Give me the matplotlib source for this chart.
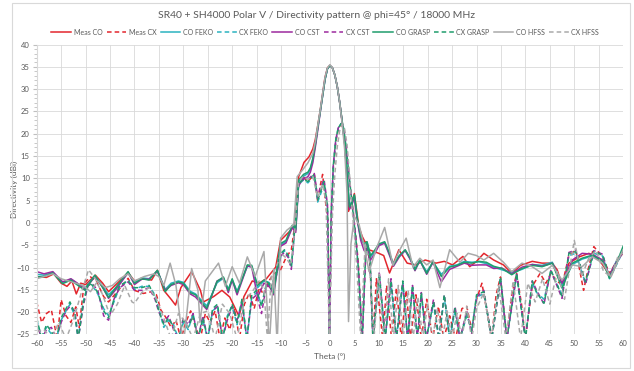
import matplotlib.pyplot as plt
from matplotlib.patches import Rectangle
from matplotlib.ticker import MultipleLocator

plt.rcParams["font.family"] = ["Lato", "DejaVu Sans"]

# Theta grids (deg)
theta_co_sim = [
    -60, -58.5, -56.7, -54.7, -53, -51.8, -50.1, -48.1, -46.5, -45.3,
    -43.5, -41.3, -40, -38.5, -37, -35.3, -33.7, -32.5, -31, -30,
    -28.6, -27.5, -25.2, -23.1, -21.8, -20.8, -20, -19, -16.9, -16,
    -14.8, -13.5, -12.5, -11.5, -10.1, -9, -7.7, -7, -6.4, -5.4,
    -4.5, -4, -3.5, -3, -2.5, -2, -1.5, -1, -0.5, 0,
    0.5, 1, 1.5, 2, 2.5, 3, 3.5, 4, 4.5, 5,
    5.6, 6.3, 7, 7.6, 8.3, 9.1, 10, 11.2, 12.2, 13,
    14.2, 15.4, 16.4, 17.4, 18.4, 19.8, 21.1, 22.8, 24.5, 26,
    27.5, 29, 30.5, 32, 33.5, 35.2, 37.2, 39.3, 41.4, 43.4,
    45.5, 47.5, 49.6, 51.6, 53.7, 55.8, 57.2, 58.5, 60,
]
theta_cx_sim = [
    -60, -59, -58, -57, -56, -55, -54, -53.2, -52.2, -51.5,
    -50.5, -49.5, -48.5, -47.5, -46.3, -45.3, -44.2, -43, -41.3, -40,
    -38.5, -37, -35.8, -35, -34, -33, -32, -31, -30, -29,
    -28, -27, -26, -25, -24, -23, -22, -21, -20, -19,
    -18, -17, -16, -15, -14, -13, -12, -11, -10, -9.3,
    -8.5, -7.9, -7.2, -6.4, -5.5, -4.5, -3.2, -2.5, -2, -1.2,
    -0.5, -0.1, 0.3, 0.7, 1.2, 1.7, 2.3, 2.8, 3.3, 3.8,
    4.3, 4.8, 5.3, 5.8, 6.6, 7.4, 8.2, 8.8, 10.1, 11.3,
    12.5, 13.6, 14.9, 15.9, 16.9, 17.9, 18.7, 19.7, 21.2, 22.3,
    23.4, 24.5, 25.6, 26.6, 28, 29, 30, 31.5, 33.1, 34.9,
    36.2, 38.2, 40, 41.4, 42.3, 43.8, 45.2, 47.5, 48.9, 50.3,
    52.3, 54, 55.8, 57.2, 58.5, 60,
]
theta_meas_co = [
    -60, -58, -56.5, -55, -53.8, -52.8, -51.9, -51, -50, -48,
    -46.5, -45.3, -43.5, -41.3, -40, -38, -36.5, -35.3, -34, -32.5,
    -31.6, -30.5, -28.3, -26.5, -25.9, -23.8, -22.1, -20.5, -18.6, -17.6,
    -15.9, -14.5, -13, -11.1, -10.1, -8, -7.1, -6.4, -5.3, -4.3,
    -3.5, -3, -2.5, -2, -1.5, -1, -0.5, 0, 0.5, 1,
    1.5, 2, 2.5, 3, 3.5, 3.8, 4.3, 5, 5.9, 6.6,
    8, 10, 11, 12.2, 14.1, 15.8, 17.5, 19.5, 21.7, 23.4,
    25.1, 27.2, 28.6, 30, 31.5, 33.5, 35.5, 37.2, 39, 41.4,
    43.4, 45.5, 46.5, 47.5, 48.9, 51, 53, 55.1, 57.2, 59.2,
    60,
]
theta_meas_cx = [
    -60, -59, -58, -57, -55.8, -55, -54, -53, -52, -51.3,
    -50.3, -49, -47.8, -46.3, -45.3, -43.3, -41.3, -40, -38.2, -36.5,
    -35.5, -34.6, -33.5, -32.5, -31.5, -30.5, -29.5, -28.5, -27.5, -26.5,
    -25.5, -24.5, -23.5, -22.5, -21.5, -20.5, -19.5, -18.5, -17.5, -16.5,
    -15.5, -14.5, -13.5, -12.5, -11.5, -10.1, -9, -7.9, -7.2, -6.4,
    -5.5, -4.5, -3.2, -2.5, -2, -1.5, -0.9, -0.4, -0.1, 0.3,
    0.7, 1.2, 1.7, 2.3, 2.8, 3.3, 3.8, 4.3, 4.8, 5.3,
    5.8, 6.6, 7.4, 8.2, 8.8, 9.5, 10.8, 11.6, 12.6, 13.6,
    14.6, 15.6, 16.5, 17.6, 18.7, 19.8, 21, 22.2, 23.3, 24.5,
    25.7, 27, 28, 29, 30, 31.1, 32.2, 33.1, 34, 34.9,
    36.2, 37.2, 38.2, 39.2, 40, 41.4, 43, 44.2, 45.2, 46.5,
    47.5, 48.9, 50.3, 51.9, 52.8, 54, 55.8, 57.2, 59.2, 60,
]
theta_hfss_co = [
    -60, -58.5, -56.7, -55, -53.5, -52, -50.5, -49, -47.5, -46,
    -44.5, -43, -41.3, -40, -38, -36, -35, -34, -32.7, -31.5,
    -30.8, -30, -28.3, -27, -26.6, -25.5, -22.8, -21.4, -20, -18.5,
    -16.9, -15.3, -13.5, -12.4, -11.5, -10.8, -10.1, -8.8, -7.4, -6.7,
    -5.6, -4.5, -3.5, -3, -2.5, -2, -1.5, -1, -0.5, 0,
    0.5, 1, 1.5, 2, 2.5, 3, 3.5, 3.8, 4.3, 5,
    6, 7, 8, 9.5, 11.2, 12.9, 14.2, 15.6, 17, 18.4,
    19.8, 21.1, 22.5, 24.5, 26.6, 28.3, 30, 31.5, 33.5, 35.5,
    37.2, 39.3, 41.4, 43.4, 45.5, 47.5, 49.6, 51.6, 53.7, 55.8,
    57.5, 59, 60,
]
theta_hfss_cx = [
    -60, -58.5, -57, -55.5, -54, -52.5, -51, -49.4, -48, -46.5,
    -45, -43.5, -42, -40.5, -40, -38.5, -37, -35.5, -34, -32.5,
    -31, -29.5, -28, -26.5, -25, -23.5, -22, -20.5, -19, -17.5,
    -16, -14.5, -13.5, -12.8, -12, -11, -10, -9, -8, -7.2,
    -6.4, -5.5, -4.5, -3.5, -2.5, -1.5, -0.8, -0.1, 0.5, 1,
    1.5, 2, 2.5, 3, 3.5, 4, 4.5, 5, 5.5, 6.3,
    7.2, 8.1, 9, 10, 11, 12, 13, 14, 15, 16,
    17, 18, 19, 20, 21, 22, 23, 24, 25, 26,
    27, 28, 29, 30, 31.5, 33, 34.5, 36, 37.5, 39,
    40.5, 42, 43.5, 45, 46.5, 48, 50, 51.5, 53, 54.5,
    56, 57.5, 59, 60,
]

# Directivity (dBi)
meas_co = [
    -12.0, -12.2, -11.4, -13.5, -14.2, -13.0, -15.9, -13.5, -13.8, -11.7,
    -13.5, -15.4, -13.5, -11.1, -13.0, -12.5, -12.8, -10.6, -15.1, -17.1,
    -18.4, -14.5, -10.9, -15.1, -17.7, -16.5, -15.1, -16.6, -20.9, -16.5,
    -13.0, -13.5, -12.5, -9.9, -3.9, -1.6, 0.3, 10.4, 13.6, 14.8,
    16.6, 18.7, 21.8, 25.2, 29.0, 32.7, 34.8, 35.3, 34.8, 33.2,
    30.6, 27.0, 22.8, 18.2, 9.8, 2.6, 4.1, 6.6, -0.8, -3.0,
    -6.0, -6.8, -7.3, -11.2, -6.0, -9.0, -9.4, -8.3, -9.0, -8.6,
    -9.4, -7.5, -9.8, -8.6, -6.8, -8.3, -9.4, -11.3, -9.5, -8.6,
    -9.0, -9.0, -10.5, -13.9, -9.0, -7.6, -6.8, -8.3, -11.6, -7.6,
    -6.8,
]
meas_cx = [
    -17.7, -22.3, -20.3, -19.5, -26, -17.2, -20.8, -22.3, -18.8, -23.4,
    -13.5, -12.1, -13.0, -16.5, -17.7, -15.1, -12.4, -15.1, -15.8, -15.4,
    -16.1, -19.5, -21.3, -23.4, -21.8, -26, -22.3, -19.7, -23.4, -26,
    -20.3, -22.3, -19.7, -26, -21.3, -23.9, -19.2, -26, -18.2, -15.7,
    -19.2, -14.5, -16.1, -13.0, -11.4, -10.5, -7.8, -6.0, -0.5, 9.8,
    10.4, 9.3, 10.9, 4.7, 8.3, 10.9, 4.7, 0.5, -26, 1.5,
    12.4, 18.2, 21.1, 22.1, 21.3, 17.1, 11.9, 6.7, 2.1, -3.1,
    -8.8, -26, -4.2, -8.8, -26, -12.5, -26, -14.0, -26, -14.5,
    -26, -15.1, -26, -16.1, -26, -17.1, -26, -18.7, -26, -20.8,
    -26, -19.2, -18.7, -24.0, -17.1, -13.5, -20.3, -26, -16.1, -12.1,
    -26, -16.1, -11.3, -18.2, -26, -14.2, -11.3, -13.5, -11.3, -13.0,
    -14.0, -7.3, -6.0, -15.1, -10.5, -5.3, -7.6, -11.3, -7.6, -6.8,
]
feko_co = [
    -11.5, -11.7, -11.1, -13.3, -12.6, -13.5, -14.6, -11.8, -14.2, -16.1,
    -14.2, -11.2, -13.3, -12.3, -12.5, -10.8, -14.9, -13.5, -13.0, -13.3,
    -15.3, -15.9, -18.6, -13.4, -12.4, -14.8, -12.8, -15.3, -9.7, -9.8,
    -14.5, -13.0, -13.3, -15.1, -4.9, -4.2, -0.7, -1.6, 9.3, 10.5,
    11.1, 12.1, 14.2, 17.4, 21.3, 24.9, 28.5, 32.2, 34.6, 35.3,
    34.8, 33.2, 30.6, 27.0, 22.8, 18.2, 10.9, 3.8, 4.9, 6.1,
    0.8, -3.4, -4.9, -4.3, -7.6, -6.6, -4.9, -4.4, -7.0, -9.1,
    -7.4, -6.2, -8.0, -10.2, -8.5, -10.9, -8.8, -11.5, -9.7, -9.4,
    -8.6, -8.8, -8.7, -9.1, -9.9, -10.5, -11.1, -10.4, -9.3, -9.5,
    -8.8, -14.0, -9.3, -8.1, -7.4, -8.4, -12.0, -8.8, -6.2,
]
feko_cx = [
    -21.8, -25.4, -23.4, -24.9, -26, -21.8, -19.7, -18.2, -20.8, -26,
    -17.7, -13.8, -14.3, -15.9, -19.2, -20.8, -17.7, -14.3, -12.8, -14.9,
    -14.2, -14.2, -16.1, -19.2, -23.4, -21.8, -22.8, -26, -22.3, -23.9,
    -20.3, -26, -21.8, -26, -19.7, -18.7, -26, -20.8, -18.7, -22.8,
    -17.7, -26, -16.6, -15.6, -18.2, -14.0, -14.5, -11.7, -7.3, -6.2,
    -7.6, -9.9, -1.4, 8.6, 9.6, 9.0, 10.7, 4.7, 6.2, 8.8,
    3.1, -26, 2.1, 12.8, 18.5, 21.3, 22.3, 21.3, 17.1, 11.9,
    6.7, 1.5, -3.6, -10.4, -26, -4.7, -8.3, -26, -12.0, -26,
    -13.5, -26, -13.5, -26, -14.5, -26, -16.1, -26, -18.2, -26,
    -16.6, -26, -19.7, -26, -20.8, -23.9, -16.6, -15.9, -26, -12.5,
    -26, -11.7, -26, -13.5, -15.6, -17.1, -10.9, -16.1, -7.3, -6.8,
    -13.5, -6.8, -7.4, -12.5, -9.7, -6.3,
]
cst_co = [
    -10.9, -11.4, -10.9, -13.2, -12.5, -13.4, -14.9, -12.0, -14.4, -16.9,
    -14.5, -11.1, -13.8, -12.6, -12.6, -10.7, -15.1, -14.0, -13.4, -13.8,
    -15.9, -16.6, -19.4, -13.0, -12.3, -15.6, -12.8, -16.1, -9.6, -9.9,
    -16.6, -13.5, -14.0, -16.1, -5.2, -4.5, -1.05, -2.1, 8.8, 9.8,
    10.4, 11.4, 13.5, 16.9, 20.7, 24.7, 28.5, 32.2, 34.6, 35.3,
    34.8, 33.2, 30.6, 27.0, 22.6, 17.9, 10.7, 3.1, 4.1, 5.7,
    0.5, -3.9, -6.2, -4.7, -8.3, -7.0, -5.1, -4.5, -7.3, -9.7,
    -7.6, -6.1, -8.1, -10.7, -8.4, -11.5, -8.8, -13.2, -10.4, -9.7,
    -9.0, -9.5, -9.4, -9.4, -10.2, -10.1, -11.4, -9.9, -9.3, -9.7,
    -9.0, -13.5, -8.3, -6.8, -7.0, -8.3, -11.7, -9.0, -6.6,
]
cst_cx = [
    -22.3, -26, -23.9, -23.4, -26, -22.3, -19.7, -18.7, -19.7, -26,
    -18.7, -14.0, -13.8, -15.1, -20.8, -21.8, -17.1, -14.5, -13.2, -15.1,
    -15.1, -14.5, -17.1, -20.0, -22.3, -20.8, -23.9, -26, -21.3, -22.8,
    -20.3, -26, -20.8, -26, -19.7, -18.7, -26, -21.8, -18.7, -21.8,
    -17.7, -26, -17.1, -16.1, -20.3, -14.0, -14.5, -12.0, -7.3, -6.6,
    -7.8, -10.4, -1.6, 8.3, 10.1, 9.8, 11.1, 5.7, 7.8, 9.8,
    4.1, -26, 3.1, 13.2, 18.7, 21.3, 22.3, 21.3, 17.1, 11.9,
    6.7, 1.5, -3.6, -9.9, -26, -5.2, -8.6, -26, -10.9, -26,
    -12.5, -26, -13.5, -26, -14.0, -26, -15.6, -26, -17.1, -26,
    -16.1, -26, -18.7, -26, -19.7, -24.9, -16.6, -15.1, -26, -12.5,
    -26, -11.5, -26, -13.0, -15.1, -18.2, -10.7, -16.9, -6.6, -6.1,
    -13.8, -6.2, -7.0, -12.3, -9.3, -5.9,
]
grasp_co = [
    -12.1, -12.0, -11.2, -13.6, -12.8, -13.8, -15.1, -11.7, -14.5, -16.7,
    -14.0, -10.9, -13.5, -12.5, -12.8, -10.6, -15.4, -13.8, -13.2, -13.5,
    -15.6, -16.1, -19.1, -13.1, -12.1, -15.1, -12.5, -15.6, -9.4, -9.5,
    -14.0, -12.8, -13.5, -15.7, -4.6, -3.9, -0.5, -1.4, 9.6, 10.9,
    11.4, 12.4, 14.5, 17.6, 21.3, 24.9, 28.5, 32.2, 34.6, 35.3,
    34.8, 33.2, 30.6, 27.0, 22.8, 18.2, 10.9, 3.6, 4.7, 6.3,
    1.0, -3.1, -4.7, -4.2, -7.3, -6.2, -4.7, -4.2, -6.8, -9.4,
    -7.3, -6.0, -7.8, -10.5, -8.3, -11.3, -8.6, -12.0, -9.9, -9.5,
    -8.8, -9.0, -8.6, -8.8, -9.7, -10.2, -11.6, -10.2, -9.5, -9.8,
    -9.0, -14.6, -9.0, -7.9, -7.2, -8.6, -12.4, -9.4, -5.2,
]
grasp_cx = [
    -21.3, -26, -22.8, -24.4, -26, -21.3, -19.2, -17.7, -20.3, -26,
    -18.2, -13.5, -14.0, -15.6, -19.7, -21.3, -17.1, -14.0, -13.0, -14.5,
    -14.5, -14.0, -16.6, -19.7, -22.8, -21.3, -23.4, -26, -21.8, -23.4,
    -20.8, -26, -21.3, -26, -19.2, -18.2, -26, -21.3, -18.2, -22.3,
    -17.1, -26, -16.1, -15.1, -18.7, -13.5, -14.0, -11.4, -6.8, -6.0,
    -7.3, -9.8, -1.05, 8.8, 9.8, 9.3, 10.9, 5.2, 6.7, 9.3,
    3.6, -26, 2.6, 13.0, 18.7, 21.3, 22.3, 21.3, 17.1, 11.9,
    6.7, 1.5, -3.6, -9.9, -26, -4.5, -7.8, -26, -11.4, -26,
    -13.0, -26, -13.0, -26, -14.0, -26, -15.6, -26, -17.7, -26,
    -16.1, -26, -19.2, -26, -20.3, -24.4, -16.1, -15.4, -26, -12.1,
    -26, -11.3, -26, -13.0, -15.6, -18.0, -10.5, -16.5, -6.8, -6.4,
    -13.2, -6.4, -7.2, -12.1, -9.4, -6.0,
]
hfss_co = [
    -12.5, -12.0, -11.4, -12.5, -13.0, -13.5, -14.0, -15.4, -13.0, -14.5,
    -14.0, -12.5, -11.4, -13.0, -12.0, -11.4, -12.0, -14.0, -9.0, -14.0,
    -20.3, -27.5, -10.2, -15.1, -22.3, -13.0, -9.0, -14.2, -9.8, -13.5,
    -7.6, -12.0, -6.4, -27.5, -10.4, -27.5, -3.4, -1.6, -0.4, 10.4,
    11.9, 13.5, 15.6, 18.2, 21.8, 25.2, 29.0, 32.7, 34.8, 35.5,
    34.8, 33.2, 30.6, 27.0, 22.3, 16.6, 6.7, -22.1, -4.7, 1.5,
    -0.5, -5.2, -10.9, -5.7, -1.0, -9.5, -6.2, -3.4, -9.9, -7.9,
    -9.4, -8.3, -14.5, -6.0, -8.8, -6.8, -7.3, -8.3, -6.8, -8.8,
    -10.9, -9.0, -9.8, -11.3, -9.5, -12.8, -9.4, -9.8, -7.6, -9.0,
    -12.1, -8.3, -6.0,
]
hfss_cx = [
    -24.4, -23.9, -26, -22.3, -26, -21.8, -16.1, -10.5, -12.5, -16.1,
    -20.8, -18.2, -14.0, -17.7, -18.0, -15.6, -14.5, -17.1, -21.3, -26,
    -20.3, -22.3, -26, -20.3, -19.7, -26, -18.2, -20.3, -26, -17.1,
    -15.6, -13.0, -15.1, -26, -12.0, -9.9, -6.8, -7.8, -9.4, -1.6,
    9.3, 10.4, 9.8, 10.4, 5.7, 8.8, 4.7, -26, 1.5, 10.9,
    17.1, 20.7, 22.1, 21.1, 17.6, 10.9, 3.6, -2.6, -9.9, -26,
    -4.7, -8.8, -26, -11.4, -26, -12.5, -26, -14.0, -26, -15.1,
    -26, -16.6, -26, -18.2, -26, -19.2, -26, -19.7, -26, -20.3,
    -26, -18.7, -26, -19.2, -15.6, -26, -14.0, -26, -13.0, -26,
    -13.5, -17.7, -12.5, -18.2, -10.9, -17.1, -3.9, -12.0, -7.8, -6.2,
    -10.9, -12.0, -7.3, -6.8,
]

series = [
    ("Meas CO", theta_meas_co, meas_co, "#e3262d", "-"),
    ("Meas CX", theta_meas_cx, meas_cx, "#e3262d", "--"),
    ("CO FEKO", theta_co_sim, feko_co, "#2bb3c0", "-"),
    ("CX FEKO", theta_cx_sim, feko_cx, "#2bb3c0", "--"),
    ("CO CST", theta_co_sim, cst_co, "#9c2a9e", "-"),
    ("CX CST", theta_cx_sim, cst_cx, "#9c2a9e", "--"),
    ("CO GRASP", theta_co_sim, grasp_co, "#1f9d6c", "-"),
    ("CX GRASP", theta_cx_sim, grasp_cx, "#1f9d6c", "--"),
    ("CO HFSS", theta_hfss_co, hfss_co, "#a9a9a9", "-"),
    ("CX HFSS", theta_hfss_cx, hfss_cx, "#a9a9a9", "--"),
]

fig = plt.figure(figsize=(6.34, 3.71), dpi=100)

# light frame around the whole chart
fig.patches.append(Rectangle((12 / 634, 3 / 371), 618 / 634, 365 / 371,
                             transform=fig.transFigure, fill=False,
                             edgecolor="#d9d9d9", linewidth=0.8))

ax = fig.add_axes([0.0579, 0.0984, 0.925, 0.7814])
for name, x, y, color, style in series:
    line, = ax.plot(x, y, style, color=color, linewidth=1.1, label=name)
    if style == "--":
        line.set_dashes((3, 2))

ax.set_xlim(-60, 60)
ax.set_ylim(-25, 40)
ax.xaxis.set_major_locator(MultipleLocator(5))
ax.yaxis.set_major_locator(MultipleLocator(5))
ax.yaxis.set_minor_locator(MultipleLocator(1))
ax.grid(True, which="major", color="#d9d9d9", linewidth=0.6)
ax.set_axisbelow(True)
for side in ["top", "right", "bottom"]:
    ax.spines[side].set_visible(False)
ax.spines["left"].set_color("#d9d9d9")
ax.tick_params(axis="both", which="both", labelsize=5.5, labelcolor="#595959",
               color="#bfbfbf")
ax.tick_params(axis="x", length=0, pad=4)
ax.tick_params(axis="y", which="major", length=3, pad=2)
ax.tick_params(axis="y", which="minor", length=2)

ax.set_xlabel("Theta (°)", fontsize=6, color="#595959", labelpad=4)
ax.set_ylabel("Directivity (dBi)", fontsize=6, color="#595959")
ax.yaxis.set_label_coords(-0.032, 0.5)

fig.text(0.5, 0.958, "SR40 + SH4000 Polar V / Directivity pattern @ phi=45° / 18000 MHz",
         ha="center", va="center", fontsize=7.5, color="#595959")
fig.legend(loc="center", bbox_to_anchor=(0.513, 0.913), ncol=10, frameon=False,
           fontsize=5, handlelength=2.8, columnspacing=0.6, handletextpad=0.4,
           labelcolor="#595959")

plt.savefig("out.png", dpi=100)
